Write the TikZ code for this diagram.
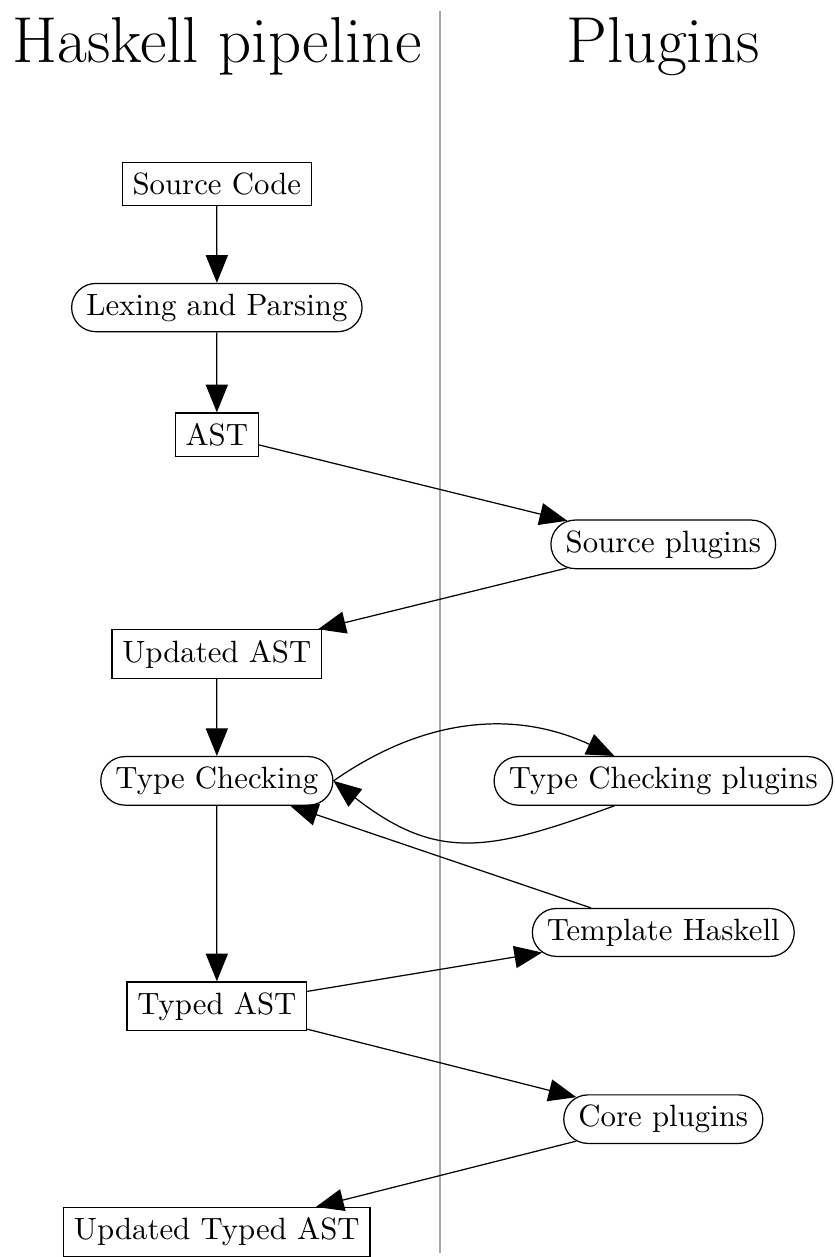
\documentclass[tikz,border=0pt]{standalone}
\usepackage{tikz}
\usetikzlibrary{shapes.misc, arrows.meta, positioning, calc}
\tikzset{
  % Pipeline artefacts and stages
  artefact/.style={rectangle, draw=black, text centered},
  stage/.style={rounded rectangle, draw=black, text centered},
  heading/.style={font=\fontsize{21.1}{25}\selectfont},
  arrow/.style={-{Triangle[length=9pt, width=7.2pt]}},
  divider/.style={draw=gray!70, thin},
}

\begin{document}
\begin{tikzpicture}[node distance=25pt]
    % Column headings
    \node[heading] (hpipe) {Haskell pipeline};
    \node[heading] (hplug) at ([xshift=145pt]hpipe) {Plugins};

    % Compiler pipeline
    \node[artefact, below=24.5pt of hpipe] (src) {Source Code};
    \node[stage, below=of src] (lex) {Lexing and Parsing};
    \node[artefact, below=26pt of lex] (ast) {AST};
    \node[artefact, below=56pt of ast] (uast) {Updated AST};
    \node[stage, below=of uast] (tc) {Type Checking};
    \node[artefact, below=57pt of tc] (tast) {Typed AST};
    \node[artefact, below=57pt of tast] (utast) {Updated Typed AST};

    % Plugin hooks
    \node[stage] (srcplug) at ($(ast)!.5!(uast) + (145pt,0)$) {Source plugins};
    \node[stage] (tcplug) at ([xshift=145pt]tc) {Type Checking plugins};
    \node[stage] (th) at ([xshift=145pt, yshift=24pt]tast) {Template Haskell};
    \node[stage] (coreplug) at ($(tast)!.5!(utast) + (145pt,0)$) {Core plugins};

    % Divider between the columns
    \coordinate (divtop) at ($(hpipe.north)!.5!(hplug.north) + (0,-1.3pt)$);
    \draw[divider] (divtop) -- ([yshift=1.3pt]divtop |- utast.south);

    % Arrows
    \draw[arrow] (src) -- (lex);
    \draw[arrow] (lex) -- (ast);
    \draw[arrow] (ast) -- (srcplug);
    \draw[arrow] (srcplug) -- (uast);
    \draw[arrow] (uast) -- (tc);
    \draw[arrow] (tc.east) to[out=35, in=155] (tcplug.153);
    \draw[arrow] (tcplug.207) to[out=200, in=-38, looseness=1.2] (tc.east);
    \draw[arrow] (th) -- (tc);
    \draw[arrow] (tc) -- (tast);
    \draw[arrow] (tast) -- (th);
    \draw[arrow] (tast) -- (coreplug);
    \draw[arrow] (coreplug) -- (utast);

    \pgfresetboundingbox
    \useasboundingbox ([xshift=-20.5pt]utast.south west) rectangle ($(tcplug.east |- hpipe.north) + (0.6pt,2.2pt)$);
\end{tikzpicture}
\end{document}
